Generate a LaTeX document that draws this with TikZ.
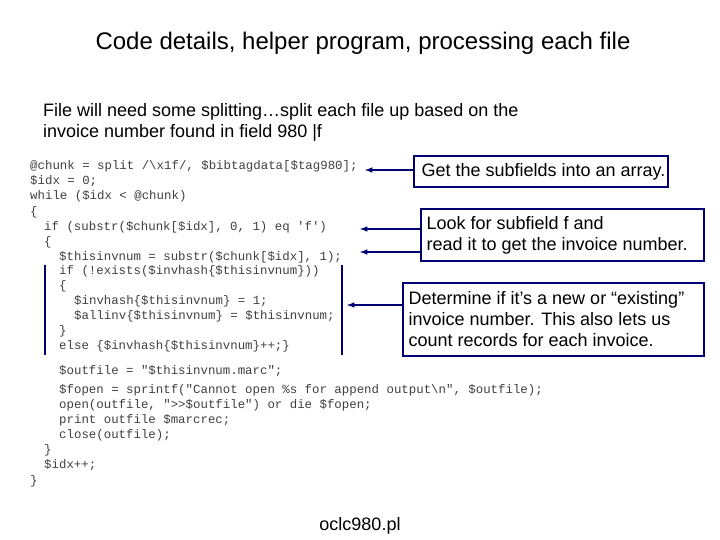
\documentclass[tikz,border=0pt]{standalone}
\usepackage{fontspec}
\setmainfont{Liberation Sans}
\newfontfamily\codefont{Liberation Mono}
\begin{document}
\begin{tikzpicture}[x=1pt,y=-1pt,
  box/.style={draw=blue!45!black,line width=1.8pt,fill=white,inner sep=0pt},
  lbl/.style={font=\fontsize{18}{21}\selectfont,align=left,anchor=west},
  code/.style={font=\codefont\fontsize{12.4}{15}\selectfont,anchor=base west,inner sep=0pt,text=black!75},
  arr/.style={draw=blue!45!black,line width=1.5pt,-latex}]
\useasboundingbox (0,0) rectangle (720,540);
\node[font=\fontsize{24}{28}\selectfont] (title) at (363,43) {Code details, helper program, processing each file};
\node[font=\fontsize{18}{21}\selectfont,align=left,anchor=west,inner sep=0pt] (intro) at (43,122) {File will need some splitting\ldots split each file up based on the\\invoice number found in field 980 |f};
% code
\foreach \t/\xx/\yy [count=\i] in {
 {@chunk = split /\textbackslash x1f/, \$bibtagdata[\$tag980];}/30/170,
 {\$idx = 0;}/30/185,
 {while (\$idx < @chunk)}/30/200,
 {\{}/30/215,
 {if (substr(\$chunk[\$idx], 0, 1) eq 'f')}/44/230,
 {\{}/44/245,
 {\$thisinvnum = substr(\$chunk[\$idx], 1);}/59/260,
 {if (!exists(\$invhash\{\$thisinvnum\}))}/59/274,
 {\{}/59/289,
 {\$invhash\{\$thisinvnum\} = 1;}/74/304,
 {\$allinv\{\$thisinvnum\} = \$thisinvnum;}/74/319,
 {\}}/59/334,
 {else \{\$invhash\{\$thisinvnum\}++;\}}/59/349,
 {\$outfile = "\$thisinvnum.marc";}/59/374,
 {\$fopen = sprintf("Cannot open \%s for append output\textbackslash n", \$outfile);}/59/393,
 {open(outfile, ">>\$outfile") or die \$fopen;}/59/408,
 {print outfile \$marcrec;}/59/423,
 {close(outfile);}/59/438,
 {\}}/44/453,
 {\$idx++;}/44/468,
 {\}}/30/484}
 {\node[code] (c\i) at (\xx,\yy) {\t};}
% bars
\coordinate (b1a) at (45,265); \coordinate (b1b) at (45,355);
\coordinate (b2a) at (342,265); \coordinate (b2b) at (342,355);
\draw[blue!45!black,line width=2.5pt] (b1a) -- (b1b);
\draw[blue!45!black,line width=2.5pt] (b2a) -- (b2b);
% boxes
\node[box,minimum width=254pt,minimum height=31pt,anchor=north west] (n1) at (413,155) {};
\node[lbl] at (n1.west) [xshift=5pt] {Get the subfields into an array.};
\node[box,minimum width=283pt,minimum height=52pt,anchor=north west] (n2) at (420,208) {};
\node[lbl] at (n2.west) [xshift=3pt] {Look for subfield f and\\read it to get the invoice number.};
\node[box,minimum width=301pt,minimum height=73pt,anchor=north west] (n3) at (402,282) {};
\node[lbl] at (n3.west) [xshift=3pt] {Determine if it’s a new or “existing”\\invoice number. This also lets us\\count records for each invoice.};
\coordinate (t1) at (365,170);
\coordinate (t2) at (360,229);
\coordinate (t3) at (360,252);
\coordinate (t4) at (347,305);
\draw[arr] (n1.west |- t1) -- (t1);
\draw[arr] (n2.west |- t2) -- (t2);
\draw[arr] (n2.west |- t3) -- (t3);
\draw[arr] (n3.west |- t4) -- (t4);
\node[font=\fontsize{18}{20}\selectfont] (fn) at (360,526) {oclc980.pl};
\end{tikzpicture}
\end{document}
